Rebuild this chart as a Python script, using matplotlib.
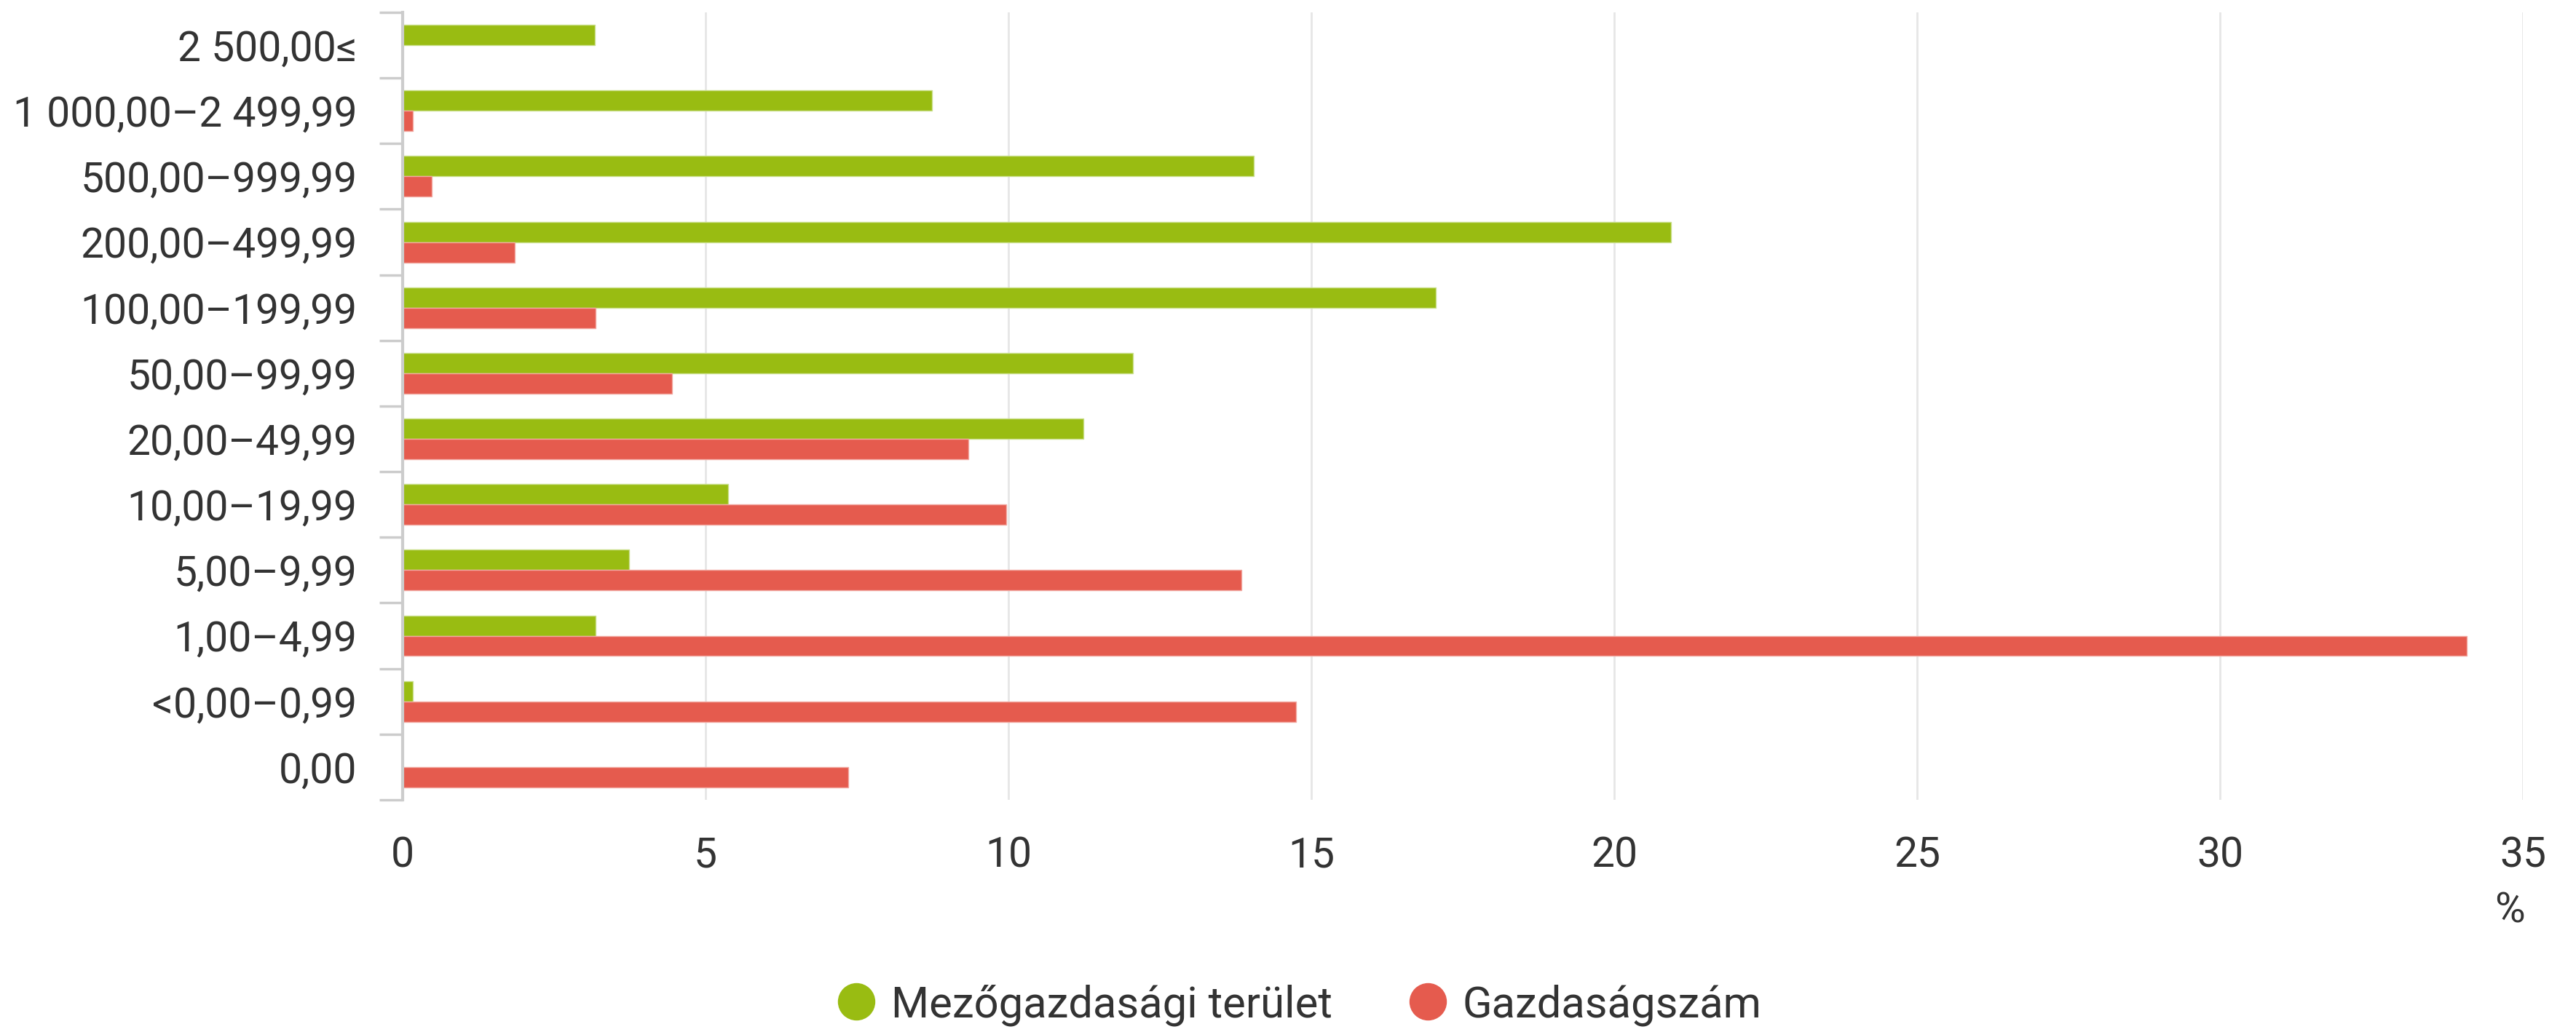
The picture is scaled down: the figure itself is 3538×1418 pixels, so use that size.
import matplotlib.pyplot as plt
from matplotlib.lines import Line2D
import numpy as np

plt.rcParams['font.family'] = ['Roboto', 'DejaVu Sans']

# kategóriák (ha), felülről lefelé
categories = ["2 500,00≤", "1 000,00–2 499,99", "500,00–999,99", "200,00–499,99",
              "100,00–199,99", "50,00–99,99", "20,00–49,99", "10,00–19,99",
              "5,00–9,99", "1,00–4,99", "<0,00–0,99", "0,00"]
terulet = [3.17, 8.74, 14.05, 20.94, 17.05, 12.05, 11.24, 5.37, 3.74, 3.18, 0.17, 0.0]
gazdasag = [0.0, 0.17, 0.48, 1.85, 3.18, 4.45, 9.34, 9.96, 13.85, 34.07, 14.75, 7.36]
xticks = [0, 5, 10, 15, 20, 25, 30, 35]

green = "#99bc12"
red = "#e55b4e"
txt = "#333333"

fig = plt.figure(figsize=(35.38, 14.18), dpi=100)
ax = fig.add_axes([0.1563, 0.225, 0.8231, 0.763])

y = np.arange(len(categories))
h = 0.31
ax.barh(y - h / 2, terulet, height=h, color=green, edgecolor="#c9df8a", linewidth=1)
ax.barh(y + h / 2, gazdasag, height=h, color=red, edgecolor="#f2a9a2", linewidth=1)

ax.set_ylim(len(categories) - 0.5, -0.5)
ax.set_xlim(0, 35)

# kategórianevek középen, tick-ek a határokon
ax.set_yticks(y)
ax.set_yticklabels(categories)
ax.set_yticks(np.arange(len(categories) + 1) - 0.5, minor=True)
ax.tick_params(axis="y", which="major", length=0, pad=45, labelsize=41, labelcolor=txt)
ax.tick_params(axis="y", which="minor", length=23, width=2.5, color="#cccccc")

ax.set_xticks(xticks)
ax.tick_params(axis="x", length=0, pad=36, labelsize=41, labelcolor=txt)
ax.grid(axis="x", color="#e6e6e6", linewidth=2)
ax.set_axisbelow(True)

for s in ["top", "right", "bottom"]:
    ax.spines[s].set_visible(False)
ax.spines["left"].set_color("#cccccc")
ax.spines["left"].set_linewidth(3)

fig.text(3447 / 3538, 1 - 1252 / 1418, "%", ha="center", va="center", fontsize=41, color=txt)

handles = [Line2D([], [], marker="o", linestyle="", markersize=36, color=green),
           Line2D([], [], marker="o", linestyle="", markersize=36, color=red)]
fig.legend(handles, ["Mezőgazdasági terület", "Gazdaságszám"], loc="center",
           bbox_to_anchor=(0.504, 1 - 1381 / 1418), ncol=2, frameon=False,
           fontsize=43, labelcolor=txt, handlelength=1.0, handletextpad=0.3,
           columnspacing=1.7)

plt.savefig("out.png")
